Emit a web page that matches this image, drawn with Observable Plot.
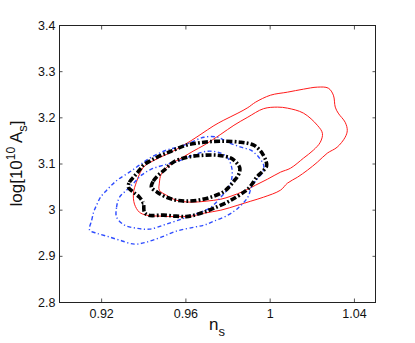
<!DOCTYPE html>
<html><head><meta charset="utf-8">
<script src="https://cdn.jsdelivr.net/npm/d3@7"></script>
<script src="https://cdn.jsdelivr.net/npm/@observablehq/plot@0.6"></script>
<style>
html,body{margin:0;padding:0;background:#fff;}
#chart svg{display:block;}
</style>
</head><body><div id="chart"></div>
<script>
// ---- data (n_s, log[10^10 A_s]) ----
const xTicks = [0.92, 0.96, 1, 1.04];
const xTickLabels = ["0.92", "0.96", "1", "1.04"];
const yTicks = [2.8, 2.9, 3.0, 3.1, 3.2, 3.3, 3.4];
const yTickLabels = ["2.8", "2.9", "3", "3.1", "3.2", "3.3", "3.4"];

const redOuter = [[0.9365,3.0606],[0.9384,3.0823],[0.9403,3.0953],[0.9469,3.1126],[0.9530,3.1255],[0.9578,3.1377],[0.9625,3.1506],[0.9672,3.1647],[0.9733,3.1831],[0.9780,3.1950],[0.9847,3.2102],[0.9894,3.2221],[0.9931,3.2340],[1.0002,3.2491],[1.0082,3.2556],[1.0158,3.2621],[1.0224,3.2665],[1.0276,3.2643],[1.0300,3.2491],[1.0309,3.2232],[1.0323,3.2102],[1.0356,3.1904],[1.0366,3.1729],[1.0356,3.1580],[1.0318,3.1364],[1.0271,3.1234],[1.0224,3.1039],[1.0177,3.0866],[1.0130,3.0715],[1.0082,3.0585],[1.0049,3.0433],[0.9969,3.0282],[0.9908,3.0195],[0.9847,3.0108],[0.9766,3.0000],[0.9686,2.9935],[0.9625,2.9870],[0.9554,2.9860],[0.9483,2.9870],[0.9412,2.9892],[0.9379,2.9957],[0.9356,3.0130],[0.9351,3.0368]];
const redInner = [[0.9474,3.0433],[0.9474,3.0585],[0.9483,3.0780],[0.9521,3.0974],[0.9578,3.1126],[0.9634,3.1277],[0.9686,3.1407],[0.9766,3.1645],[0.9828,3.1839],[0.9894,3.2015],[0.9969,3.2199],[1.0035,3.2232],[1.0082,3.2210],[1.0158,3.2102],[1.0224,3.1839],[1.0248,3.1664],[1.0238,3.1472],[1.0205,3.1299],[1.0158,3.1126],[1.0097,3.0910],[1.0049,3.0823],[0.9988,3.0673],[0.9931,3.0542],[0.9875,3.0412],[0.9814,3.0303],[0.9766,3.0238],[0.9696,3.0195],[0.9625,3.0173],[0.9554,3.0216],[0.9507,3.0325]];
const blueOuter = [[0.9143,2.9567],[0.9153,2.9784],[0.9162,2.9957],[0.9176,3.0108],[0.9195,3.0282],[0.9224,3.0433],[0.9252,3.0563],[0.9280,3.0671],[0.9332,3.0823],[0.9379,3.0974],[0.9436,3.1147],[0.9507,3.1299],[0.9578,3.1385],[0.9625,3.1472],[0.9686,3.1580],[0.9752,3.1580],[0.9799,3.1472],[0.9861,3.1364],[0.9908,3.1299],[0.9946,3.1147],[0.9969,3.0974],[0.9965,3.0823],[0.9941,3.0693],[0.9913,3.0520],[0.9894,3.0282],[0.9847,3.0043],[0.9799,2.9892],[0.9733,2.9762],[0.9686,2.9675],[0.9639,2.9632],[0.9554,2.9545],[0.9483,2.9416],[0.9412,2.9307],[0.9356,2.9264],[0.9285,2.9351],[0.9224,2.9437],[0.9176,2.9502]];
const blueInner = [[0.9271,2.9849],[0.9271,3.0065],[0.9285,3.0282],[0.9318,3.0433],[0.9356,3.0606],[0.9389,3.0758],[0.9436,3.0888],[0.9493,3.0974],[0.9563,3.1061],[0.9634,3.1190],[0.9705,3.1277],[0.9766,3.1234],[0.9799,3.1126],[0.9818,3.0910],[0.9818,3.0693],[0.9804,3.0498],[0.9766,3.0282],[0.9719,3.0065],[0.9658,2.9935],[0.9592,2.9827],[0.9507,2.9697],[0.9427,2.9589],[0.9365,2.9610],[0.9309,2.9675]];
const blackOuter = [[0.9327,3.0498],[0.9332,3.0606],[0.9356,3.0736],[0.9379,3.0866],[0.9398,3.0974],[0.9436,3.1082],[0.9483,3.1190],[0.9530,3.1277],[0.9601,3.1407],[0.9686,3.1472],[0.9766,3.1493],[0.9861,3.1472],[0.9922,3.1407],[0.9955,3.1277],[0.9979,3.1082],[0.9983,3.0953],[0.9965,3.0845],[0.9936,3.0715],[0.9917,3.0585],[0.9898,3.0477],[0.9875,3.0390],[0.9814,3.0216],[0.9733,3.0043],[0.9686,2.9957],[0.9639,2.9892],[0.9601,2.9860],[0.9554,2.9870],[0.9493,2.9892],[0.9422,2.9892],[0.9403,2.9957],[0.9398,3.0152],[0.9379,3.0282],[0.9351,3.0390]];
const blackInner = [[0.9436,3.0498],[0.9445,3.0628],[0.9474,3.0780],[0.9497,3.0866],[0.9540,3.1039],[0.9606,3.1147],[0.9686,3.1190],[0.9752,3.1190],[0.9814,3.1126],[0.9842,3.1017],[0.9856,3.0910],[0.9851,3.0780],[0.9828,3.0628],[0.9804,3.0498],[0.9776,3.0390],[0.9719,3.0282],[0.9658,3.0216],[0.9601,3.0195],[0.9554,3.0216],[0.9507,3.0282],[0.9464,3.0390]];

// ---- styling / layout ----
const W = 415, H = 343;
const mL = 59, mR = 40, mT = 25, mB = 41;
const font = "'Liberation Sans', Arial, Helvetica, sans-serif";
const styles = {
  red:   {stroke: "#ff1a1a", strokeWidth: 1.0, strokeLinecap: "butt"},
  blue:  {stroke: "#2e4cff", strokeWidth: 1.4, strokeDasharray: "4,2.5,1.2,2.5", strokeLinecap: "butt"},
  black: {stroke: "#000000", strokeWidth: 3.6, strokeDasharray: "6,2.2,1.8,2.2", strokeLinecap: "butt"}
};
const series = [
  {id: "redOuter", pts: redOuter, style: "red"},
  {id: "redInner", pts: redInner, style: "red"},
  {id: "blueOuter", pts: blueOuter, style: "blue"},
  {id: "blueInner", pts: blueInner, style: "blue"},
  {id: "blackOuter", pts: blackOuter, style: "black"},
  {id: "blackInner", pts: blackInner, style: "black"}
];
const lineMarks = series.map(s => Plot.line(
  s.pts.map(([x, y]) => ({x, y})),
  {x: "x", y: "y", curve: "catmull-rom-closed", ...styles[s.style]}
));

const tickColor = "#555";
const plot = Plot.plot({
  width: W, height: H,
  marginLeft: mL, marginRight: mR, marginTop: mT, marginBottom: mB,
  style: {fontFamily: font, fontSize: "12.5px", color: "#111", background: "#fff"},
  x: {domain: [0.9, 1.05]},
  y: {domain: [2.8, 3.4]},
  marks: [
    ...lineMarks,
    Plot.axisX(xTicks, {anchor: "bottom", tickSize: -3.5, fill: "none", stroke: tickColor, label: null}),
    Plot.axisX(xTicks, {anchor: "top", tickSize: -3.5, fill: "none", stroke: tickColor, label: null}),
    Plot.axisY(yTicks, {anchor: "left", tickSize: -3.5, fill: "none", stroke: tickColor, label: null}),
    Plot.axisY(yTicks, {anchor: "right", tickSize: -3.5, fill: "none", stroke: tickColor, label: null}),
    Plot.axisX(xTicks, {anchor: "bottom", tickSize: 0, tickPadding: 7, label: null, fill: "#111",
      tickFormat: d => xTickLabels[xTicks.indexOf(d)]}),
    Plot.axisY(yTicks, {anchor: "left", tickSize: 0, tickPadding: 4, label: null, fill: "#111",
      tickFormat: d => yTickLabels[yTicks.indexOf(d)]}),
    Plot.frame({stroke: "#222", strokeWidth: 1})
  ]
});

const svg = d3.select(plot);
const cx = (mL + (W - mR)) / 2;
const cy = (mT + (H - mB)) / 2;
// x-axis label: n_s
const xl = svg.append("text")
  .attr("x", cx).attr("y", 330)
  .attr("text-anchor", "middle")
  .attr("font-family", font).attr("font-size", 17).attr("fill", "#111");
xl.append("tspan").text("n");
xl.append("tspan").attr("dy", 6).attr("font-size", 13).text("s");
// y-axis label: log[10^10 A_s]
const yl = svg.append("text")
  .attr("transform", `translate(22,${cy}) rotate(-90)`)
  .attr("text-anchor", "middle")
  .attr("font-family", font).attr("font-size", 17).attr("fill", "#111");
yl.append("tspan").text("log[10");
yl.append("tspan").attr("dy", -7).attr("font-size", 12).text("10");
yl.append("tspan").attr("dy", 7).text(" A");
yl.append("tspan").attr("dy", 5).attr("font-size", 13).text("s");
yl.append("tspan").attr("dy", -5).text("]");

document.getElementById("chart").appendChild(plot);
</script>
</body></html>
